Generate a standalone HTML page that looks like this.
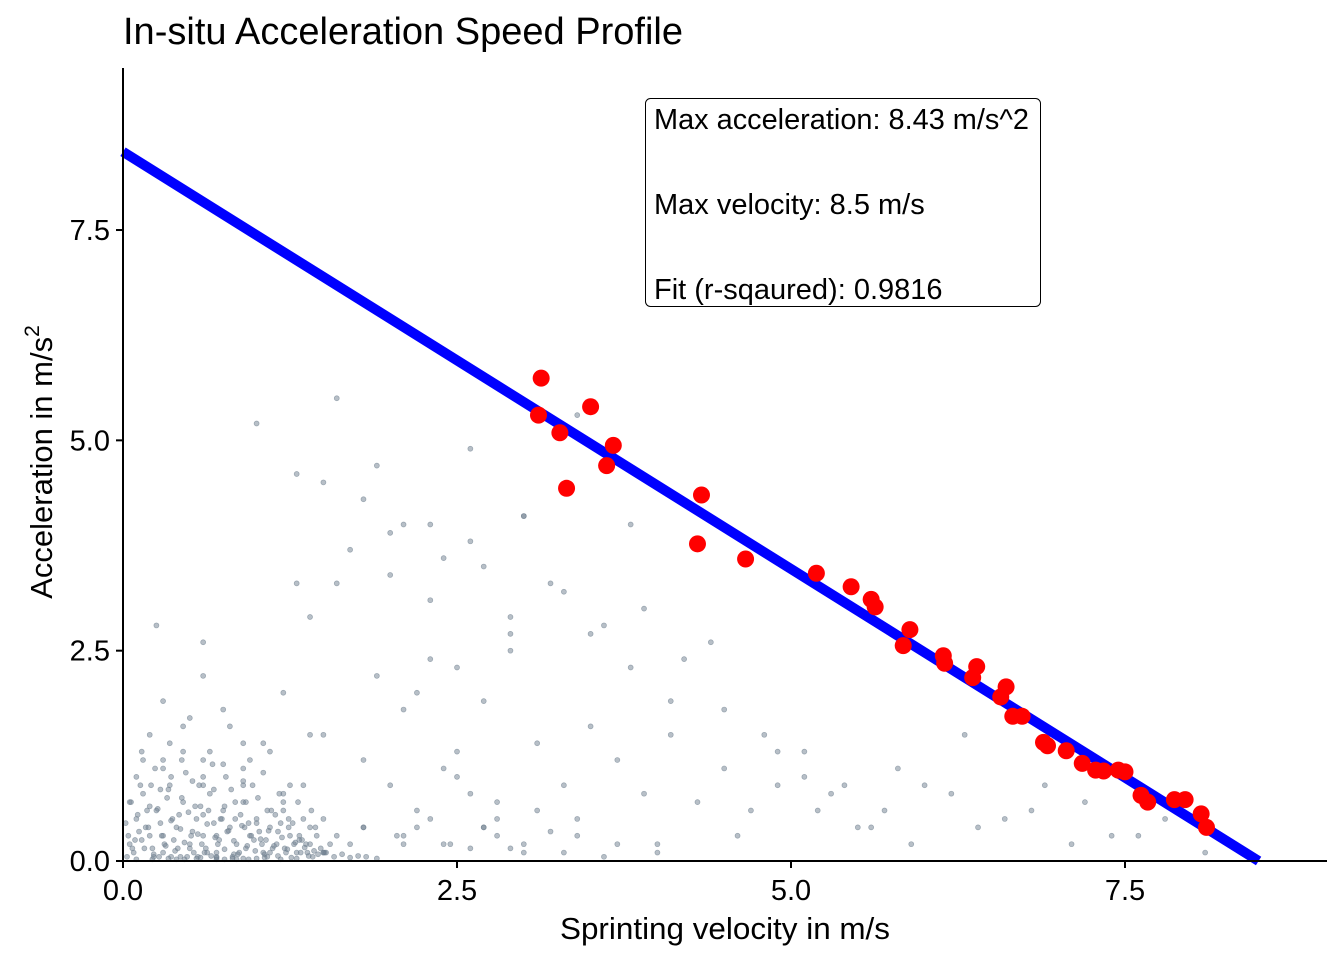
<!DOCTYPE html>
<html><head><meta charset="utf-8"><style>
body{margin:0;background:#fff;}
svg text{font-family:"Liberation Sans",Arial,sans-serif;}
</style></head><body>
<svg id="chart" width="1344" height="960" xmlns="http://www.w3.org/2000/svg">
<rect width="1344" height="960" fill="#fff"/>
<text x="123" y="44" font-size="38" textLength="560" lengthAdjust="spacingAndGlyphs" fill="#000">In-situ Acceleration Speed Profile</text>
<g id="gray"></g>
<g id="fit"></g>
<g id="red"></g>
<g id="axes"></g>
<text x="725" y="939" font-size="31" text-anchor="middle" textLength="330" lengthAdjust="spacingAndGlyphs">Sprinting velocity in m/s</text>
<text transform="translate(52,462) rotate(-90)" font-size="31" text-anchor="middle">Acceleration in m/s<tspan dy="-13" font-size="21">2</tspan></text>
<g>
<rect x="645.5" y="98.5" width="395" height="208" rx="5" fill="#fff" stroke="#000" stroke-width="1"/>
<text x="654" y="129" font-size="29" textLength="375" lengthAdjust="spacingAndGlyphs">Max acceleration: 8.43 m/s^2</text>
<text x="654" y="214" font-size="29">Max velocity: 8.5 m/s</text>
<text x="654" y="299" font-size="29">Fit (r-sqaured): 0.9816</text>
</g>
</svg>
<script>
const xTicks=[0,2.5,5,7.5];
const xTickLabels=["0.0","2.5","5.0","7.5"];
const yTicks=[0,2.5,5,7.5];
const yTickLabels=["0.0","2.5","5.0","7.5"];
const fitIntercept=8.43;
const fitMaxVelocity=8.5;
const redX=[3.13,3.11,3.27,3.50,3.67,3.62,3.32,4.33,4.30,4.66,5.19,5.45,5.60,5.63,5.89,5.84,6.14,6.15,6.39,6.36,6.61,6.57,6.66,6.73,6.89,6.92,7.06,7.18,7.28,7.34,7.45,7.50,7.62,7.67,7.87,7.95,8.07,8.11];
const redY=[5.74,5.30,5.09,5.40,4.94,4.70,4.43,4.35,3.77,3.59,3.42,3.26,3.11,3.02,2.75,2.56,2.44,2.35,2.31,2.18,2.07,1.95,1.72,1.72,1.41,1.37,1.31,1.16,1.08,1.07,1.08,1.06,0.78,0.70,0.73,0.73,0.56,0.40];
const grayX=[0.05,0.1,0.15,0.2,0.25,0.3,0.35,0.4,0.45,0.5,0.55,0.6,0.65,0.7,0.75,0.8,0.85,0.9,0.95,1.0,1.05,1.1,1.15,1.2,1.25,1.3,1.35,1.4,1.45,1.5,
0.08,0.12,0.18,0.22,0.28,0.33,0.38,0.42,0.48,0.52,0.58,0.62,0.68,0.72,0.78,0.82,0.88,0.92,0.98,1.02,1.08,1.12,1.18,1.22,1.28,1.32,1.38,1.42,1.48,1.55,
0.03,0.1,0.17,0.24,0.31,0.37,0.44,0.51,0.57,0.64,0.71,0.77,0.84,0.91,0.97,1.04,1.11,1.17,1.24,1.31,1.37,1.44,1.51,1.6,1.7,0.06,0.14,0.21,0.27,0.34,
0.41,0.47,0.54,0.61,0.67,0.74,0.81,0.87,0.94,1.01,1.07,1.14,1.21,1.27,1.34,1.41,0.02,0.09,0.16,0.23,0.3,0.36,0.43,0.5,0.56,0.63,0.7,0.76,0.83,0.9,
0.2,0.35,0.5,0.65,0.8,0.95,1.1,1.25,0.3,0.45,0.6,0.75,0.9,1.05,0.4,0.55,0.7,0.85,1.0,0.25,0.6,0.9,1.2,1.5,1.8,2.0,2.2,2.4,2.6,2.8,
1.9,2.1,2.3,2.5,2.7,2.9,3.1,3.3,3.5,3.7,3.9,4.1,4.3,4.5,4.7,4.9,5.1,5.3,5.5,5.7,1.7,2.0,2.3,2.6,2.9,3.2,3.5,3.8,4.1,4.4,
1.5,1.8,2.1,2.4,2.7,3.0,3.3,3.6,3.9,4.2,4.5,4.8,5.1,5.4,5.8,6.2,6.6,6.9,7.2,7.6,1.0,1.3,1.6,1.9,2.2,2.5,2.8,3.1,3.4,3.7,
0.6,0.9,1.2,1.5,1.8,2.1,2.4,2.7,3.0,3.3,1.4,1.6,2.0,2.3,2.6,3.0,3.4,3.8,2.5,2.9,0.7,1.1,1.5,2.2,2.8,3.4,4.0,4.6,5.2,5.9,
6.4,6.8,7.1,7.4,7.8,8.1,5.6,6.0,6.3,4.9,1.4,1.3,0.6,0.3,1.8,2.1,2.6,3.0,3.6,4.0,
0.04,0.07,0.11,0.14,0.19,0.23,0.26,0.29,0.32,0.36,0.39,0.43,0.46,0.49,0.53,0.56,0.59,0.63,0.66,0.69,0.73,0.76,0.79,0.83,0.86,0.89,0.93,0.96,0.99,1.03,
1.06,1.09,1.13,1.16,1.19,1.23,1.26,1.29,1.33,1.36,1.39,1.43,1.46,1.52,1.58,1.64,1.7,1.76,1.82,1.9,0.05,0.13,0.2,0.28,0.36,0.44,0.52,0.6,0.68,0.76,
0.84,0.92,1.0,1.08,1.16,1.24,1.32,1.4,0.1,0.22,0.34,0.46,0.58,0.7,0.82,0.94,1.06,1.18,1.3,0.15,0.3,0.45,0.6,0.75,0.9,1.05,1.2,1.35,2.05,2.3,2.45,2.7,2.9,3.2];
const grayY=[0.2,0.5,0.8,0.3,0.6,0.1,0.9,0.4,0.7,0.2,0.5,0.3,0.8,0.1,0.6,0.4,0.2,0.7,0.3,0.5,0.1,0.4,0.2,0.6,0.3,0.1,0.5,0.2,0.3,0.1,
0.1,0.35,0.6,0.15,0.45,0.75,0.25,0.55,0.05,0.35,0.65,0.15,0.45,0.25,0.35,0.05,0.55,0.15,0.25,0.35,0.05,0.15,0.45,0.1,0.2,0.3,0.1,0.05,0.15,0.2,
0.05,1.0,0.4,1.1,0.2,0.5,1.2,0.3,0.9,0.6,0.2,1.0,0.7,0.4,0.9,0.2,0.6,0.8,0.4,0.7,0.2,0.4,0.1,0.3,0.2,0.7,1.3,0.9,0.05,0.85,
0.15,1.05,0.65,0.1,1.15,0.5,0.85,0.1,0.45,0.75,0.25,0.55,0.15,0.45,0.25,0.6,0.45,0.25,0.15,0.05,0.3,0.05,0.05,0.15,0.05,0.1,0.05,0.02,0.08,0.03,
1.5,1.4,1.7,1.3,1.6,1.2,1.3,0.9,1.9,1.6,2.2,1.8,1.1,1.4,0.02,0.03,0.04,0.02,0.03,2.8,2.6,1.4,2.0,1.5,1.2,0.9,0.6,1.1,0.8,0.7,
2.2,1.8,2.4,1.0,1.9,2.5,1.4,0.9,1.6,1.2,0.8,1.5,0.7,1.1,0.6,0.9,1.3,0.8,0.4,0.6,3.7,3.4,3.1,3.8,2.9,3.3,2.7,2.3,1.9,2.6,
4.5,4.3,4.0,3.6,3.5,4.1,3.2,2.8,3.0,2.4,1.8,1.5,1.0,0.9,1.1,0.8,0.5,0.9,0.7,0.3,5.2,4.6,5.5,4.7,2.0,1.3,0.5,0.6,0.3,0.2,
1.2,0.9,0.7,0.5,0.4,0.3,0.2,0.4,0.2,0.1,2.9,3.3,3.9,4.0,4.9,4.1,5.3,4.0,2.3,2.7,0.3,0.1,0.1,0.4,0.3,0.5,0.2,0.3,0.6,0.2,
0.4,0.6,0.2,0.3,0.5,0.1,0.4,0.9,1.5,1.3,1.5,3.3,0.9,1.2,0.4,0.2,0.15,0.1,0.05,0.1,
0.3,0.15,0.55,0.25,0.4,0.08,0.62,0.3,0.18,0.48,0.12,0.38,0.22,0.58,0.1,0.32,0.2,0.44,0.06,0.28,0.5,0.14,0.36,0.24,0.08,0.42,0.18,0.3,0.12,0.26,
0.08,0.36,0.18,0.06,0.28,0.14,0.04,0.22,0.1,0.16,0.06,0.12,0.08,0.1,0.05,0.08,0.04,0.06,0.05,0.03,0.7,0.9,0.65,0.85,1.0,0.75,0.95,0.55,0.85,0.65,
0.5,0.7,0.45,0.6,0.35,0.5,0.25,0.4,0.02,0.02,0.03,0.02,0.04,0.02,0.03,0.02,0.04,0.02,0.03,1.2,1.1,1.3,1.0,1.15,0.95,1.05,0.8,0.9,0.3,0.5,0.2,0.4,0.15,0.35];
const svg=document.getElementById('chart');
const NS='http://www.w3.org/2000/svg';
const X0=123,XS=133.6,Y0=861,YS=84.13;
const sx=v=>X0+v*XS, sy=v=>Y0-v*YS;
function mk(tag,attrs,parent){const e=document.createElementNS(NS,tag);for(const k in attrs)e.setAttribute(k,attrs[k]);parent.appendChild(e);return e;}
const gG=document.getElementById('gray');
for(let i=0;i<grayX.length;i++){
 const c=mk('circle',{cx:sx(grayX[i]),cy:sy(grayY[i]),r:2.5,fill:'#708090','fill-opacity':0.5,stroke:'#708090','stroke-opacity':0.6,'stroke-width':0.7},gG);
 
 
}
const fit=mk('line',{x1:sx(0),y1:sy(fitIntercept),x2:sx(fitMaxVelocity),y2:sy(0),stroke:'#0000ff','stroke-width':10},document.getElementById('fit'));


const gR=document.getElementById('red');
for(let i=0;i<redX.length;i++){
 const c=mk('circle',{cx:sx(redX[i]),cy:sy(redY[i]),r:8.5,fill:'#ff0000'},gR);
 
 
}
const ax=document.getElementById('axes');
const yl=mk('line',{x1:123,y1:68,x2:123,y2:861,stroke:'#000','stroke-width':2},ax);


const xl=mk('line',{x1:122,y1:861,x2:1327,y2:861,stroke:'#000','stroke-width':2},ax);


xTicks.forEach((v,i)=>{
 mk('line',{x1:sx(v),y1:861,x2:sx(v),y2:868,stroke:'#000','stroke-width':2},ax);
 const t=mk('text',{x:sx(v),y:900,'font-size':29,'text-anchor':'middle'},ax);
 t.textContent=xTickLabels[i];
 
 
});
yTicks.forEach((v,i)=>{
 mk('line',{x1:116,y1:sy(v),x2:123,y2:sy(v),stroke:'#000','stroke-width':2},ax);
 const t=mk('text',{x:110,y:sy(v)+10,'font-size':29,'text-anchor':'end'},ax);
 t.textContent=yTickLabels[i];
 
 
});
</script>
</body></html>
